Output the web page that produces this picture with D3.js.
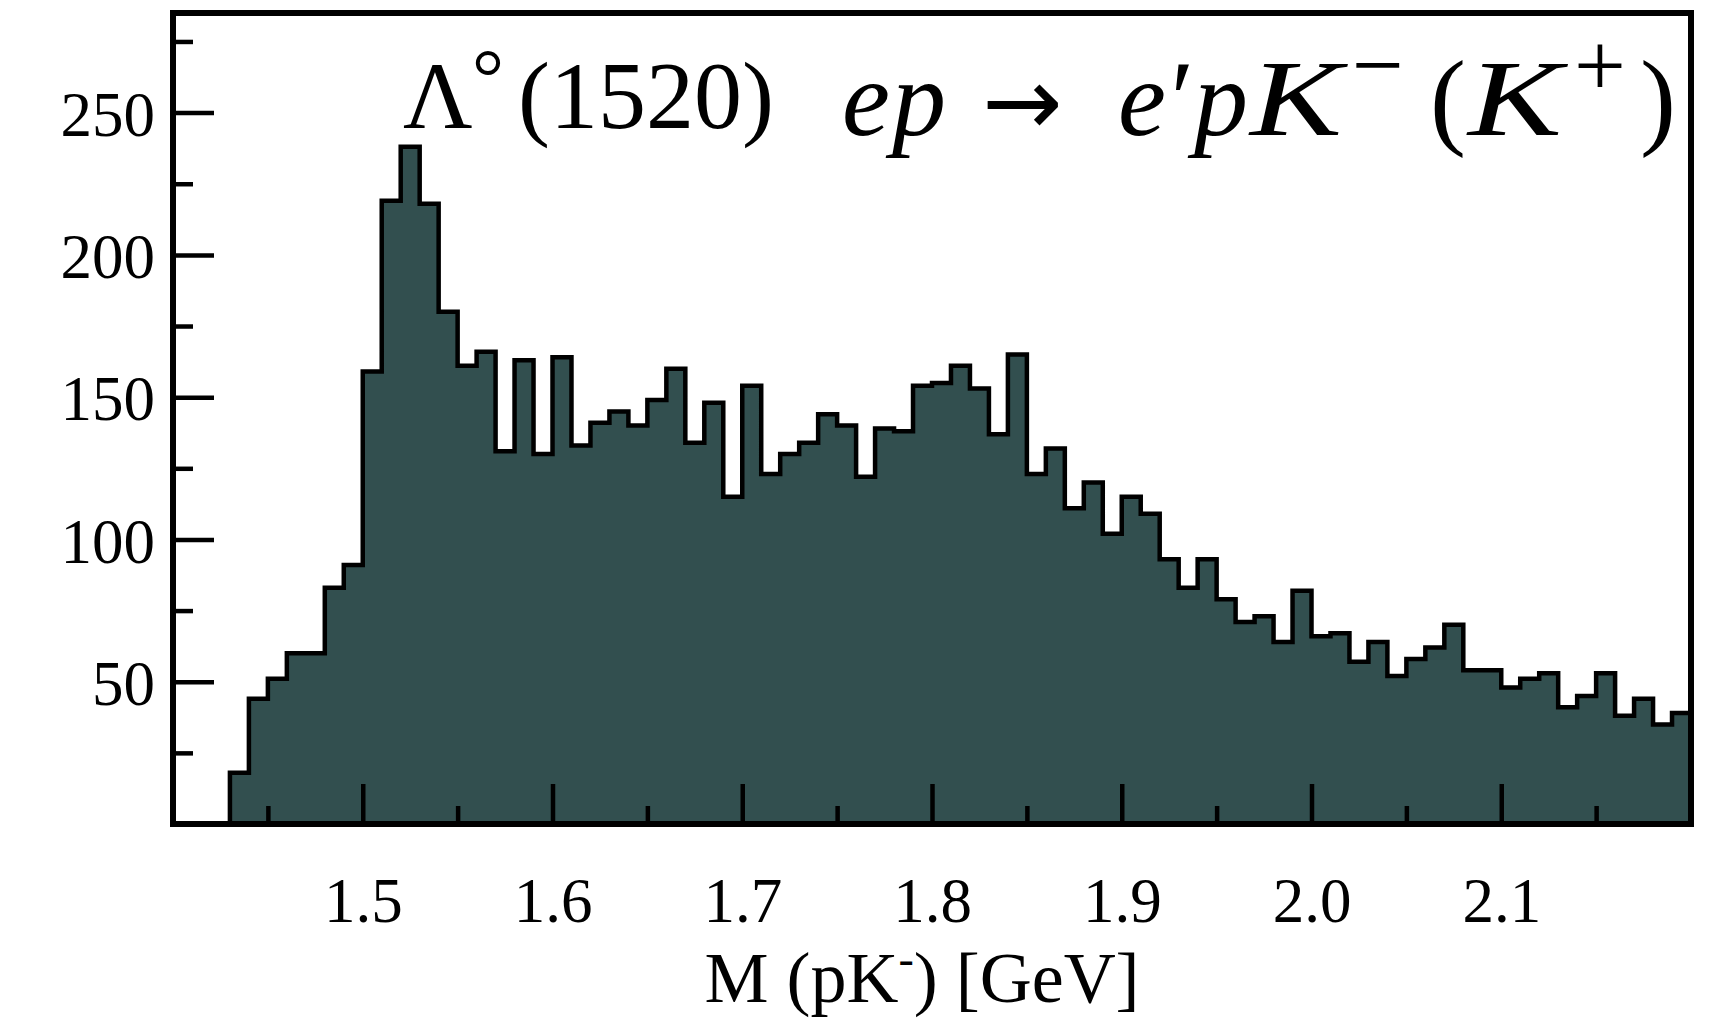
<!DOCTYPE html>
<html>
<head>
<meta charset="utf-8">
<script src="https://cdn.jsdelivr.net/npm/d3@7"></script>
<style>
  html, body { margin: 0; padding: 0; background: #ffffff; }
  svg { display: block; }
</style>
</head>
<body>
<svg id="chart" width="1718" height="1025"></svg>
<script>
// Invariant mass spectrum M(pK-) with 10 MeV bins
const binLow = 1.43;            // lower edge of first bin [GeV]
const binWidth = 0.01;          // bin width [GeV]
const counts = [
  18, 44, 51, 60, 60, 83, 91, 159, 219, 238,
  218, 180, 161, 166, 131, 163, 130, 164, 133, 141,
  145, 140, 149, 160, 134, 148, 115, 154, 123, 130,
  134, 144, 140, 122, 139, 138, 154, 155, 161, 153,
  137, 165, 123, 132, 111, 120, 102, 115, 109, 93,
  83, 93, 79, 71, 73, 64, 82, 66, 67, 57,
  64, 52, 58, 62, 70, 54, 54, 48, 51, 53,
  41, 45, 53, 38, 44, 35, 39
];
const xMajorTicks = [1.5, 1.6, 1.7, 1.8, 1.9, 2.0, 2.1];
const xMinorTicks = [1.45, 1.55, 1.65, 1.75, 1.85, 1.95, 2.05, 2.15];
const yMajorTicks = [50, 100, 150, 200, 250];
const yMinorTicks = [25, 75, 125, 175, 225, 275];
const xDomain = [1.4, 2.2];
const yDomain = [0, 285];

const svg = d3.select("#chart");
const plot = { left: 173, right: 1691, top: 13, bottom: 824 };

const x = d3.scaleLinear().domain(xDomain).range([plot.left, plot.right]);
const y = d3.scaleLinear().domain(yDomain).range([plot.bottom, plot.top]);

// step points: each bin's left edge with its count, closing at the last right edge
const pts = counts.map((c, i) => [+(binLow + i * binWidth).toFixed(2), c]);
pts.push([+(binLow + counts.length * binWidth).toFixed(2), counts[counts.length - 1]]);

const area = d3.area()
  .x(d => x(d[0])).y0(y(0)).y1(d => y(d[1]))
  .curve(d3.curveStepAfter);
const outline = d3.line()
  .x(d => x(d[0])).y(d => y(d[1]))
  .curve(d3.curveStepAfter);

const g = svg.append("g");
g.append("path").datum(pts)
  .attr("d", area)
  .attr("fill", "#324f4f");
g.append("path")
  .datum([[pts[0][0], 0], ...pts, [pts[pts.length - 1][0], 0]])
  .attr("d", outline)
  .attr("fill", "none")
  .attr("stroke", "#000")
  .attr("stroke-width", 4.5)
  .attr("stroke-linejoin", "miter");

const labelFont = "'Liberation Serif', 'Times New Roman', serif";

// x axis: inward ticks, labels below
const xMajor = d3.axisBottom(x).tickValues(xMajorTicks).tickSize(-40)
  .tickPadding(53).tickFormat(d3.format(".1f"));
const xMinor = d3.axisBottom(x).tickValues(xMinorTicks).tickSize(-18).tickFormat("");
const gx = svg.append("g").attr("transform", `translate(0,${plot.bottom})`).call(xMajor);
const gx2 = svg.append("g").attr("transform", `translate(0,${plot.bottom})`).call(xMinor);

// y axis: inward ticks, labels on the left
const yMajor = d3.axisLeft(y).tickValues(yMajorTicks).tickSize(-41)
  .tickPadding(18).tickFormat(d3.format("d"));
const yMinor = d3.axisLeft(y).tickValues(yMinorTicks).tickSize(-20).tickFormat("");
const gy = svg.append("g").attr("transform", `translate(${plot.left},0)`).call(yMajor);
const gy2 = svg.append("g").attr("transform", `translate(${plot.left},0)`).call(yMinor);

[gx, gx2, gy, gy2].forEach(a => {
  a.select(".domain").remove();
  a.selectAll(".tick line").attr("stroke", "#000").attr("stroke-width", 4.5);
  a.selectAll("text")
    .attr("fill", "#000")
    .style("font-family", labelFont)
    .style("font-size", "63px");
});
gx.selectAll("text").attr("dy", "0.71em");
gy.selectAll("text").attr("dy", "0.36em");

// frame
svg.append("rect")
  .attr("x", plot.left).attr("y", plot.top)
  .attr("width", plot.right - plot.left).attr("height", plot.bottom - plot.top)
  .attr("fill", "none").attr("stroke", "#000").attr("stroke-width", 6);

// x axis title
const xt = svg.append("text")
  .attr("x", 922).attr("y", 1002)
  .attr("text-anchor", "middle")
  .style("font-family", labelFont).style("font-size", "72px")
  .attr("fill", "#000");
xt.append("tspan").text("M (pK");
xt.append("tspan").text("-").attr("dy", -28).style("font-size", "46px");
xt.append("tspan").text(") [GeV]").attr("dy", 28);

// reaction annotation, typeset piece by piece
const mathFont = "'Liberation Serif', 'Times New Roman', serif";
const pieces = [
  { s: "Λ",      x: 403,  y: 128, size: 96 },
  { s: "°",      x: 472,  y: 104, size: 80 },
  { s: "(1520)", x: 518,  y: 128, size: 96 },
  { s: "e",      x: 842,  y: 135, size: 108, it: true },
  { s: "p",      x: 892,  y: 135, size: 108, it: true },
  { s: "→",      x: 982,  y: 135, size: 96, fam: "'DejaVu Sans', sans-serif" },
  { s: "e",      x: 1118, y: 135, size: 108, it: true },
  { s: "′",      x: 1164, y: 135, size: 108, it: true },
  { s: "p",      x: 1194, y: 135, size: 108, it: true },
  { s: "K",      x: 1250, y: 135, size: 108, it: true, len: 92 },
  { s: "−",      x: 1352, y: 96,  size: 92 },
  { s: "(",      x: 1430, y: 135, size: 108 },
  { s: "K",      x: 1468, y: 135, size: 108, it: true, len: 94 },
  { s: "+",      x: 1574, y: 96,  size: 92 },
  { s: ")",      x: 1640, y: 135, size: 108 }
];
const title = svg.append("g");
pieces.forEach(p => {
  const el = title.append("text")
    .attr("x", p.x).attr("y", p.y)
    .attr("fill", "#000")
    .style("font-family", p.fam || mathFont)
    .style("font-size", p.size + "px")
    .style("font-style", p.it ? "italic" : "normal")
    .text(p.s);
  if (p.len) el.attr("textLength", p.len).attr("lengthAdjust", "spacingAndGlyphs");
});
</script>
</body>
</html>
